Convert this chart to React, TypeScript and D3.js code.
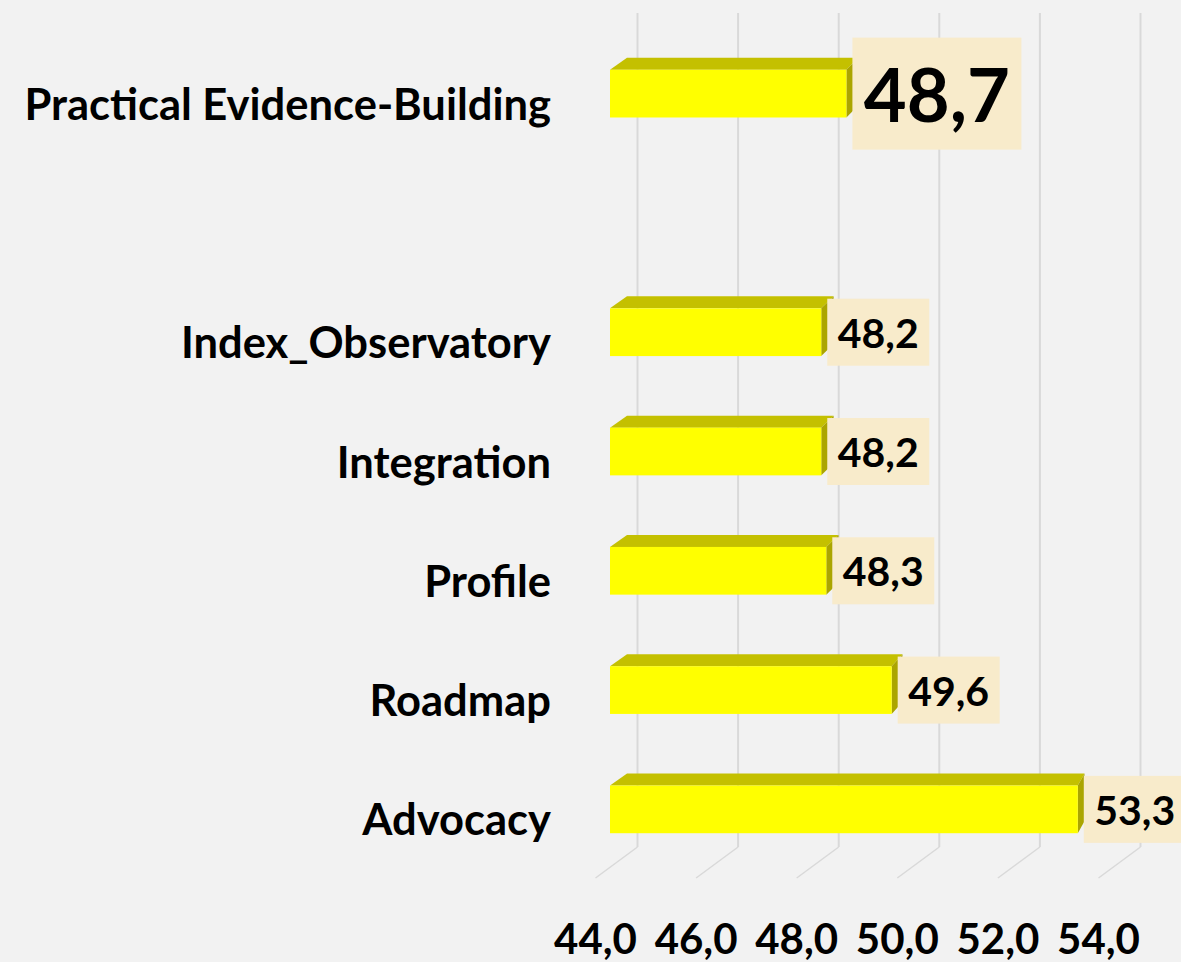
import React from "react";
import * as d3 from "d3";

// categories top to bottom; the empty one is a blank slot in the original chart
const categories = [
  "Practical Evidence-Building",
  "",
  "Index_Observatory",
  "Integration",
  "Profile",
  "Roadmap",
  "Advocacy",
];
const values: (number | null)[] = [48.7, null, 48.2, 48.2, 48.3, 49.6, 53.3];
const labels = ["48,7", "", "48,2", "48,2", "48,3", "49,6", "53,3"];
const highlighted = ["Practical Evidence-Building"];
const ticks = [44, 46, 48, 50, 52, 54];
const tickLabels = ["44,0", "46,0", "48,0", "50,0", "52,0", "54,0"];

const W = 1181;
const H = 962;
const FONT = "Lato, 'Noto Sans', sans-serif";

const App = () => {
  // back wall (gridlines) and front plane (bar faces)
  const xBack = d3.scaleLinear().domain([44, 54]).range([637.5, 1140.5]);
  const xFront = d3.scaleLinear().domain([44, 54]).range([610, 1113]);
  const y = d3.scaleBand().domain(categories).range([34, 869]).paddingInner(0.6).paddingOuter(0.3);

  const gridTop = 13;
  const gridBottom = 847;
  const floorDx = -42;
  const floorDy = 31;
  const depthY = -12;
  // perspective: the depth shift shrinks toward the right
  const depthX = (x: number) => 17 - (x - 610) * 0.022;

  return (
    <svg width={W} height={H} style={{ position: "absolute", left: 0, top: 0 }}>
      <rect width={W} height={H} fill="#f2f2f2" />

      {ticks.map((t) => (
        <g key={t}>
          <line x1={xBack(t)} x2={xBack(t)} y1={gridTop} y2={gridBottom} stroke="#d9d9d9" strokeWidth={2} />
          <line
            x1={xBack(t)}
            y1={gridBottom}
            x2={xBack(t) + floorDx}
            y2={gridBottom + floorDy}
            stroke="#d9d9d9"
            strokeWidth={1.5}
          />
        </g>
      ))}

      {categories.map((c, i) => {
        const v = values[i];
        if (v == null) return null;
        const y0 = y(c)!;
        const h = y.bandwidth();
        const x0 = xFront(44);
        const x1 = xFront(v);
        const d0 = depthX(x0);
        const d1 = depthX(x1);
        const big = highlighted.includes(c);
        const bw = big ? 169 : 102;
        const bh = big ? 112 : 67;
        const cy = y0 + h / 2;
        const bx = x1 + 6;
        return (
          <g key={c}>
            <polygon
              points={`${x0},${y0} ${x1},${y0} ${x1 + d1},${y0 + depthY} ${x0 + d0},${y0 + depthY}`}
              fill="#c4c000"
            />
            <polygon
              points={`${x1},${y0} ${x1 + d1},${y0 + depthY} ${x1 + d1},${y0 + h + depthY} ${x1},${y0 + h}`}
              fill="#aba500"
            />
            <rect x={x0} y={y0} width={x1 - x0} height={h} fill="#ffff00" />
            <rect x={bx} y={cy - bh / 2} width={bw} height={bh} fill="#f8ebcb" />
            <text
              x={bx + bw / 2}
              y={cy}
              textAnchor="middle"
              dominantBaseline="central"
              fontFamily={FONT}
              fontWeight={700}
              fontSize={big ? 74 : 41}
              fill="#000"
            >
              {labels[i]}
            </text>
          </g>
        );
      })}

      {categories.map((c) =>
        c ? (
          <text
            key={c}
            x={551}
            y={y(c)! + y.bandwidth() / 2 + 26}
            textAnchor="end"
            fontFamily={FONT}
            fontWeight={700}
            fontSize={43.5}
            fill="#000"
          >
            {c}
          </text>
        ) : null
      )}

      {ticks.map((t, i) => (
        <text
          key={t}
          x={xBack(t) + floorDx}
          y={938}
          textAnchor="middle"
          dominantBaseline="central"
          fontFamily={FONT}
          fontWeight={700}
          fontSize={42}
          fill="#000"
        >
          {tickLabels[i]}
        </text>
      ))}
    </svg>
  );
};

export default App;
